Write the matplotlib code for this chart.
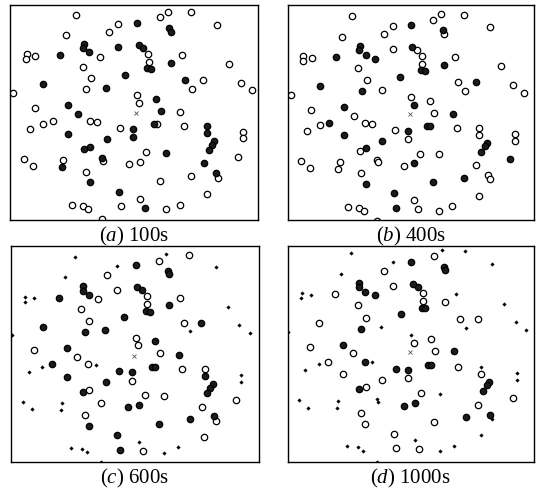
import matplotlib
matplotlib.use("Agg")
import matplotlib.pyplot as plt
import numpy as np

plt.rcParams['font.family'] = ['Liberation Serif', 'DejaVu Serif']
plt.rcParams['mathtext.fontset'] = 'custom'
plt.rcParams['mathtext.it'] = 'Liberation Serif:italic'
plt.rcParams['mathtext.rm'] = 'Liberation Serif'

# field size (same units for all four snapshots)
FIELD_W, FIELD_H = 247, 215

# ---- (a) 100s ----
a_open = [(66, 10), (108, 19), (99, 27), (56, 30), (17, 49), (16, 54), (25, 51), (90, 52), (73, 62),
          (81, 73), (76, 84), (3, 88), (126, 90), (128, 98), (25, 103), (157, 7), (149, 12), (180, 7),
          (206, 20), (137, 49), (138, 57), (171, 50), (218, 59), (192, 75), (181, 84), (230, 78),
          (241, 85), (169, 107), (20, 124), (33, 119), (43, 116), (80, 116), (87, 117), (110, 123),
          (14, 154), (23, 161), (53, 155), (93, 156), (119, 159), (129, 157), (76, 167), (129, 194),
          (62, 200), (73, 201), (78, 204), (111, 201), (92, 214), (146, 119), (173, 121), (232, 127),
          (232, 133), (135, 147), (227, 152), (180, 171), (207, 173), (149, 176), (196, 189),
          (169, 200), (155, 204)]
a_busy = [(126, 18), (74, 39), (73, 43), (79, 47), (108, 42), (128, 40), (50, 50), (115, 70), (33, 79),
          (96, 83), (58, 100), (68, 109), (158, 23), (160, 27), (132, 43), (136, 63), (140, 64),
          (160, 58), (174, 75), (145, 94), (150, 106), (58, 129), (123, 124), (123, 132), (97, 134),
          (80, 142), (74, 144), (52, 162), (92, 153), (80, 177), (109, 187), (143, 119), (196, 121),
          (196, 128), (203, 136), (201, 140), (198, 145), (155, 148), (193, 158), (205, 168), (134, 203)]
a_dead = []
a_sink = (125, 108)

# ---- (b) 400s ----
b_open = [(65, 11), (106, 21), (97, 29), (55, 32), (146, 15), (154, 9), (177, 10), (203, 22), (157, 29),
          (16, 51), (16, 56), (25, 53), (106, 44), (130, 45), (135, 51), (135, 59), (168, 52), (214, 61),
          (71, 63), (80, 75), (95, 85), (4, 90), (171, 77), (178, 86), (226, 80), (237, 88), (124, 92),
          (143, 96), (24, 105), (67, 111), (147, 108), (20, 126), (33, 120), (78, 118), (85, 119),
          (108, 125), (121, 134), (170, 123), (192, 123), (192, 130), (228, 129), (228, 136), (73, 146),
          (133, 149), (152, 149), (14, 156), (23, 163), (53, 157), (51, 164), (90, 155), (91, 157),
          (117, 161), (74, 168), (189, 160), (201, 170), (203, 174), (192, 191), (61, 202), (72, 203),
          (77, 206), (127, 195), (131, 204), (152, 206), (165, 201), (90, 216)]
b_busy = [(124, 20), (156, 25), (73, 41), (72, 45), (79, 50), (88, 54), (49, 52), (125, 42), (134, 65),
          (138, 66), (157, 60), (113, 72), (33, 81), (75, 86), (189, 77), (57, 102), (127, 100),
          (166, 109), (42, 118), (57, 130), (121, 126), (140, 121), (143, 121), (95, 136), (79, 143),
          (200, 138), (198, 141), (194, 147), (223, 154), (127, 158), (79, 179), (146, 177), (177, 173),
          (107, 188), (109, 203)]
b_dead = []
b_sink = (123, 109)

# ---- (c) 600s ----
c_open = [(177, 9), (147, 15), (96, 29), (106, 44), (87, 53), (135, 50), (135, 58), (168, 52), (70, 63),
          (78, 75), (172, 77), (124, 92), (126, 99), (23, 104), (66, 110), (148, 107), (77, 117),
          (170, 122), (193, 122), (121, 134), (78, 143), (133, 148), (152, 149), (90, 156), (224, 153),
          (190, 160), (74, 168), (204, 174), (192, 190), (131, 204)]
c_busy = [(124, 19), (156, 25), (157, 28), (72, 40), (72, 45), (78, 49), (48, 52), (125, 41), (130, 44),
          (157, 59), (134, 65), (138, 66), (113, 71), (32, 81), (74, 86), (94, 84), (189, 77), (143, 95),
          (56, 102), (167, 108), (41, 117), (108, 124), (121, 125), (140, 120), (143, 120), (56, 130),
          (193, 129), (95, 135), (72, 145), (201, 137), (198, 141), (195, 146), (117, 160), (127, 158),
          (202, 169), (78, 179), (147, 177), (178, 172), (106, 188), (109, 203)]
c_dead = [(64, 11), (154, 8), (106, 20), (204, 21), (54, 31), (14, 51), (14, 56), (23, 52), (216, 61),
          (227, 79), (238, 87), (178, 85), (1, 89), (18, 125), (31, 120), (85, 118), (229, 128),
          (229, 135), (12, 155), (21, 162), (51, 156), (50, 163), (90, 215), (60, 201), (71, 202),
          (76, 205), (127, 195), (152, 206), (166, 200)]
c_sink = (123, 109)

# ---- (d) 1000s ----
d_open = [(147, 10), (97, 25), (48, 48), (106, 40), (136, 47), (136, 55), (158, 56), (71, 59), (79, 72),
          (32, 77), (173, 73), (191, 73), (144, 93), (127, 97), (23, 101), (66, 107), (148, 105),
          (41, 115), (171, 120), (194, 127), (56, 127), (95, 133), (121, 131), (79, 140), (134, 146),
          (226, 151), (191, 158), (74, 166), (78, 177), (147, 175), (107, 187), (109, 201), (132, 202)]
d_busy = [(124, 16), (157, 21), (158, 24), (72, 37), (72, 41), (78, 46), (88, 49), (126, 38), (131, 41),
          (135, 62), (138, 62), (114, 68), (74, 83), (56, 99), (167, 105), (78, 115), (109, 122),
          (121, 123), (141, 118), (144, 118), (202, 135), (200, 138), (196, 144), (72, 142), (117, 159),
          (128, 156), (179, 170), (203, 168)]
d_dead = [(64, 7), (155, 4), (178, 5), (106, 16), (205, 18), (54, 28), (15, 47), (14, 52), (24, 49),
          (169, 48), (217, 58), (229, 76), (239, 84), (179, 82), (94, 81), (1, 86), (124, 89), (85, 115),
          (32, 117), (18, 123), (194, 120), (230, 126), (230, 133), (153, 147), (12, 153), (21, 161),
          (51, 154), (50, 161), (90, 152), (91, 155), (205, 172), (194, 188), (128, 193), (167, 199),
          (60, 199), (71, 200), (76, 204), (153, 204), (90, 215)]
d_sink = (123, 106)

captions = [r'($\mathit{a}$) 100s', r'($\mathit{b}$) 400s', r'($\mathit{c}$) 600s', r'($\mathit{d}$) 1000s']

panels = [(a_open, a_busy, a_dead, a_sink), (b_open, b_busy, b_dead, b_sink),
          (c_open, c_busy, c_dead, c_sink), (d_open, d_busy, d_dead, d_sink)]

W, H = 542, 489
fig = plt.figure(figsize=(W / 100, H / 100), dpi=100)

# axes boxes in pixels: left, top, right, bottom
boxes = [(10, 6, 258, 221), (287.5, 6, 534, 221), (11, 247, 259, 463), (287.5, 247, 534, 463)]
caption_y = [236, 236, 478, 478]

for i, (op, busy, dead, sink) in enumerate(panels):
    l, t, r, b = boxes[i]
    ax = fig.add_axes([l / W, 1 - b / H, (r - l) / W, (b - t) / H])
    if op:
        x, y = np.array(op).T
        ax.plot(x, y, ls='none', marker='o', ms=4.6, mfc='white', mec='black', mew=0.9)
    if busy:
        x, y = np.array(busy).T
        ax.plot(x, y, ls='none', marker='o', ms=4.6, mfc='#1c1c1c', mec='black', mew=0.9)
    if dead:
        x, y = np.array(dead).T
        ax.plot(x, y, ls='none', marker='D', ms=1.8, mfc='black', mec='black', mew=0.3)
    ax.plot(sink[0], sink[1], ls='none', marker='x', ms=2.6, mec='#555555', mew=0.6)

    ax.set_xlim(0, FIELD_W)
    ax.set_ylim(FIELD_H, 0)
    ax.set_xticks([])
    ax.set_yticks([])
    for s in ax.spines.values():
        s.set_linewidth(1.0)
        s.set_color('black')

    fig.text((l + r) / 2 / W, 1 - caption_y[i] / H, captions[i], ha='center', va='center',
             fontsize=15)

fig.savefig('out.png', dpi=100)
